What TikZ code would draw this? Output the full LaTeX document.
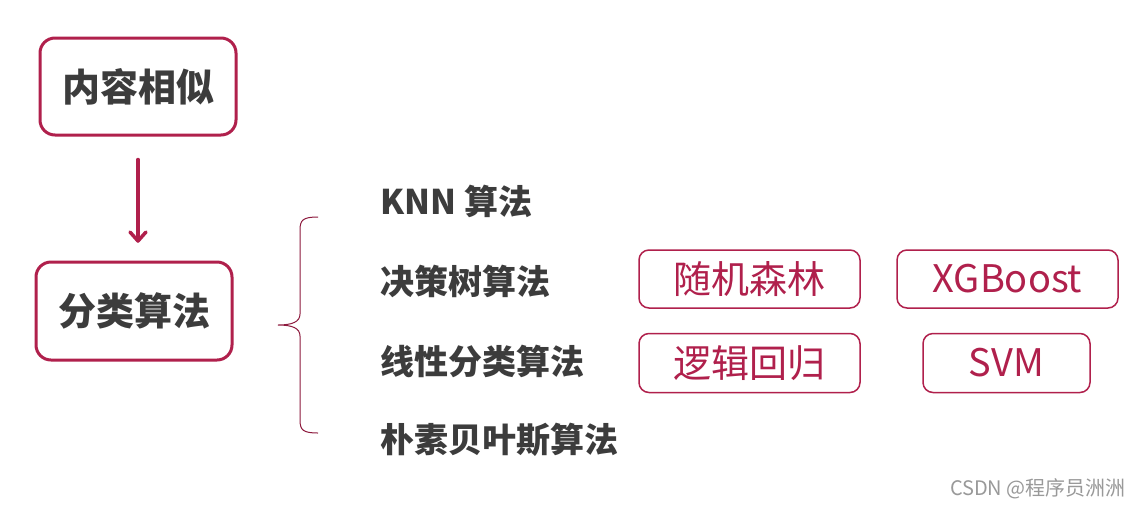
\documentclass[tikz,border=0pt]{standalone}
\usepackage{fontspec}
\setmainfont{Noto Sans CJK SC}
\usetikzlibrary{positioning}

\definecolor{crimson}{HTML}{B0204C}
\definecolor{darktext}{HTML}{3C3C3C}

\tikzset{
	mainbox/.style={draw=crimson, line width=3pt, rounded corners=15pt, fill=white,
		font=\fontsize{38}{44}\selectfont\bfseries, text=darktext, inner sep=0pt},
	subbox/.style={draw=crimson, line width=1.5pt, rounded corners=10pt, fill=white,
		font=\fontsize{38}{44}\selectfont, text=crimson, inner sep=0pt},
	algo/.style={anchor=west, font=\fontsize{34}{40}\selectfont\bfseries, text=darktext, inner sep=0pt}
}

\begin{document}
\begin{tikzpicture}[x=1pt,y=-1pt,>=latex]
	\useasboundingbox[fill=white] (0,0) rectangle (1140,507);

	% left column
	\node[mainbox, minimum width=196pt, minimum height=97pt] (similar) at (138,86.5) {内容相似};
	\node[mainbox, minimum width=196pt, minimum height=98pt] (classify) at (134,311) {分类算法};
	\draw[crimson, line width=3.5pt, line cap=round, shorten <=23pt, shorten >=20pt]
		(similar.south) -- (similar.south |- classify.north);
	\draw[crimson, line width=3.5pt, line cap=round, line join=round]
		(130,232) -- (138,241) -- (146,232);

	% brace
	\coordinate (bracetop) at (318,217);
	\coordinate (bracetip) at (278,325);
	\coordinate (bracebot) at (318,433);
	\draw[crimson!80!black, line width=1pt]
		(bracetop) .. controls (303,217) and (300,220) .. (300,230) -- (300,314)
		.. controls (300,322) and (292,325) .. (bracetip)
		.. controls (292,325) and (300,328) .. (300,336) -- (300,420)
		.. controls (300,430) and (303,433) .. (bracebot);

	% algorithm list
	\node[algo] (knn) at (380,201) {KNN 算法};
	\node[algo] (tree) at (380,281) {决策树算法};
	\node[algo] (linear) at (380,361) {线性分类算法};
	\node[algo] (bayes) at (380,440) {朴素贝叶斯算法};

	% examples
	\node[subbox, minimum width=221pt, minimum height=58pt] (forest) at (749.5,279) {随机森林};
	\node[subbox, minimum width=221pt, minimum height=58pt] (xgb) at (1007.5,279) {XGBoost};
	\node[subbox, minimum width=221pt, minimum height=59pt] (logreg) at (749.5,363) {逻辑回归};
	\node[subbox, minimum width=167pt, minimum height=59pt] (svm) at (1006.5,363) {SVM};

	% watermark
	\node[anchor=east, text=black!40, font=\fontsize{20}{22}\selectfont, inner sep=0pt] (mark) at (1126,489) {CSDN @程序员洲洲};
\end{tikzpicture}
\end{document}
